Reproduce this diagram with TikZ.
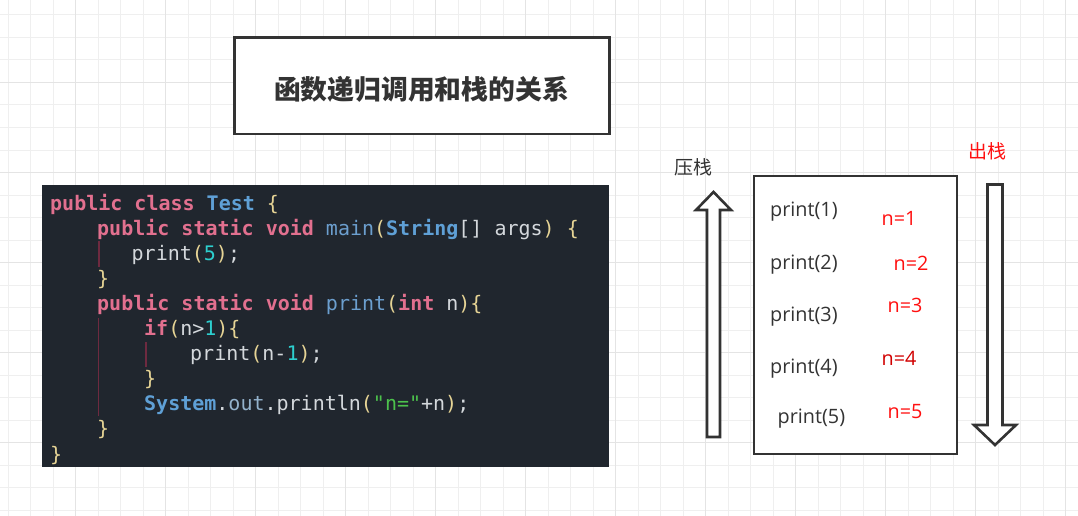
\documentclass[tikz,border=0pt]{standalone}
\usepackage{fontspec}
\newfontfamily\codefont{DejaVu Sans Mono}
\newfontfamily\cjkfont{Noto Sans CJK SC}
\newfontfamily\uifont{Open Sans}
\definecolor{codebg}{HTML}{20262E}
\definecolor{codefg}{HTML}{D4D8DC}
\definecolor{ckwc}{HTML}{E2708F}
\definecolor{ctyc}{HTML}{5FA0D6}
\definecolor{cfnc}{HTML}{6C9FCF}
\definecolor{cmemc}{HTML}{93B2CC}
\definecolor{cnumc}{HTML}{2DCFCF}
\definecolor{cstrc}{HTML}{4CC24C}
\definecolor{cbrc}{HTML}{E6D495}
\definecolor{guidec}{HTML}{6E2A40}
\definecolor{inkc}{HTML}{333333}
\definecolor{gridminor}{HTML}{EFEFEF}
\definecolor{gridmajor}{HTML}{E4E4E4}
\definecolor{redc}{HTML}{FF1010}
\newcommand{\ckw}[1]{\textcolor{ckwc}{\bfseries #1}}
\newcommand{\cty}[1]{\textcolor{ctyc}{\bfseries #1}}
\newcommand{\cfn}[1]{\textcolor{cfnc}{#1}}
\newcommand{\cmem}[1]{\textcolor{cmemc}{#1}}
\newcommand{\cnum}[1]{\textcolor{cnumc}{#1}}
\newcommand{\cstr}[1]{\textcolor{cstrc}{#1}}
\newcommand{\cbr}[1]{\textcolor{cbrc}{#1}}
\begin{document}
\begin{tikzpicture}[x=1pt,y=-1pt,
  codeline/.style={anchor=base west,inner sep=0pt,font=\codefont\fontsize{20}{22}\selectfont,text=codefg},
  frame/.style={draw=inkc,line width=2.6pt},
  blockarrow/.style={draw=inkc,line width=2.6pt,fill=white,line join=miter},
  guide/.style={draw=guidec,line width=1.8pt},
  stacktext/.style={anchor=west,inner sep=0pt,font=\uifont\fontsize{19.8}{22}\selectfont,text=inkc},
  nval/.style={anchor=west,inner sep=0pt,font=\uifont\fontsize{19.8}{22}\selectfont,text=redc},
  cjklabel/.style={inner sep=0pt,font=\cjkfont\fontsize{19}{22}\selectfont}]
\useasboundingbox (0,0) rectangle (1078,516);
\fill[white] (0,0) rectangle (1078,516);
% grid
\foreach \i in {0,...,47} {\draw[gridminor,line width=1pt] ({8.3+22.5*\i},0) -- ({8.3+22.5*\i},516);}
\foreach \i in {0,...,22} {\draw[gridminor,line width=1pt] (0,{15+22.5*\i}) -- (1078,{15+22.5*\i});}
\foreach \i in {0,...,11} {\draw[gridmajor,line width=1.3pt] ({75.8+90*\i},0) -- ({75.8+90*\i},516);}
\foreach \i in {0,...,5} {\draw[gridmajor,line width=1.3pt] (0,{82.5+90*\i}) -- (1078,{82.5+90*\i});}
% title
\node[frame,fill=white,minimum width=375pt,minimum height=96.5pt,inner sep=0pt] (title) at (421.8,85.8) {};
\node[inner sep=0pt,font=\cjkfont\bfseries\fontsize{26.8}{30}\selectfont,text=inkc] (titletext) at (421.5,89) {函数递归调用和栈的关系};
% code box
\node[fill=codebg,minimum width=567pt,minimum height=282pt,inner sep=0pt] (code) at (325.5,326) {};
\draw[guide] (99,241) -- (99,267);
\draw[guide] (98.5,318) -- (98.5,416);
\draw[guide] (146,342) -- (146,367);
\node[codeline] (l1) at (50,210) {\ckw{public class} \cty{Test} \cbr{\{}};
\node[codeline] (l2) at (97,235.1) {\ckw{public static void} \cfn{main}\cbr{(}\cty{String}[] args\cbr{)} \cbr{\{}};
\node[codeline] (l3) at (131.5,260.2) {print\cbr{(}\cnum{5}\cbr{)};};
\node[codeline] (l4) at (97,285.3) {\cbr{\}}};
\node[codeline] (l5) at (97,310.4) {\ckw{public static void} \cfn{print}\cbr{(}\ckw{int} n\cbr{)}\cbr{\{}};
\node[codeline] (l6) at (144,335.5) {\ckw{if}\cbr{(}n>\cnum{1}\cbr{)}\cbr{\{}};
\node[codeline] (l7) at (190,360.6) {print\cbr{(}n-\cnum{1}\cbr{)};};
\node[codeline] (l8) at (144,385.7) {\cbr{\}}};
\node[codeline] (l9) at (144,410.8) {\cty{System}.\cmem{out}.println\cbr{(}\cstr{"n="}+n\cbr{)};};
\node[codeline] (l10) at (97,435.9) {\cbr{\}}};
\node[codeline] (l11) at (50,461) {\cbr{\}}};
% stack
\node[frame,fill=white,minimum width=203pt,minimum height=278pt,inner sep=0pt] (stack) at (855.5,315) {};
\node[stacktext] (p1) at (770,212) {print(1)};
\node[stacktext] (p2) at (770,264.5) {print(2)};
\node[stacktext] (p3) at (770,317) {print(3)};
\node[stacktext] (p4) at (770,369) {print(4)};
\node[stacktext] (p5) at (777.5,419) {print(5)};
\node[nval] (n1) at (881.5,218.5) {n=1};
\node[nval] (n2) at (893.5,263.5) {n=2};
\node[nval] (n3) at (887.5,305) {n=3};
\node[nval,text=red!82!black] (n4) at (881.5,358.5) {n=4};
\node[nval] (n5) at (887.5,412) {n=5};
% arrows
\draw[blockarrow] (707,437) -- (707,210) -- (696,210) -- (713.5,192) -- (731,210) -- (720,210) -- (720,437) -- cycle;
\draw[blockarrow] (987.5,184.5) -- (1002.5,184.5) -- (1002.5,425) -- (1016,425) -- (995,445) -- (974,425) -- (987.5,425) -- cycle;
\node[cjklabel,text=inkc] (push) at (693.5,167) {压栈};
\node[cjklabel,text=redc] (pop) at (987,151) {出栈};
\end{tikzpicture}
\end{document}
